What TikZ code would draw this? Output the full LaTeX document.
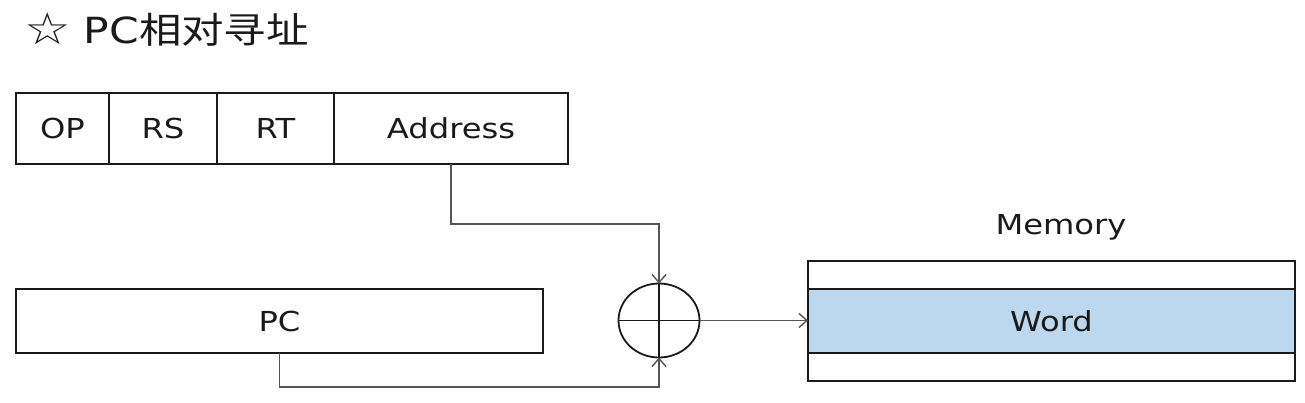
\documentclass[tikz,border=0pt]{standalone}
\usepackage{fontspec}
\setmainfont{DejaVu Sans}
\newfontfamily\cjk{Noto Sans CJK SC}
\usetikzlibrary{arrows.meta,shapes.geometric}
\definecolor{wordblue}{HTML}{BDD7EE}
\definecolor{linegray}{HTML}{555555}
\definecolor{ink}{HTML}{1A1A1A}
\newcommand{\wtxt}[2][1.17]{\scalebox{#1}[1]{#2}}
\begin{document}
\begin{tikzpicture}[x=1pt,y=-1pt,
  cell/.style={draw=ink, line width=1.8pt, inner sep=0pt, outer sep=0pt,
    minimum height=71pt, text=ink, font=\fontsize{27.5}{33}\selectfont},
  label/.style={inner sep=0pt, text=ink, font=\fontsize{27.5}{33}\selectfont},
  conn/.style={draw=linegray, line width=1.3pt},
  arrowed/.style={conn, -{Straight Barb[length=8pt,width=14pt,line width=1.4pt]}},
  adderstyle/.style={ellipse, draw=ink, line width=1.8pt, inner sep=0pt, outer sep=0pt,
    minimum width=81pt, minimum height=74pt},
  crossline/.style={draw=ink, line width=1.5pt}
]
\useasboundingbox (0,0) rectangle (1305,403);

% title
\node[anchor=base west, inner sep=0pt, text=ink, font=\fontsize{36}{40}\selectfont]
  (title) at (24,44) {\wtxt[1.18]{{\fontsize{44}{44}\selectfont\raisebox{-1pt}{☆}}\hspace{11pt}PC{\cjk 相对寻址}}};

% instruction format
\node[cell, minimum width=93pt]  (op)   at (62.5,128.5) {\wtxt{OP}};
\node[cell, minimum width=108pt] (rs)   at (163,128.5)  {\wtxt{RS}};
\node[cell, minimum width=117pt] (rt)   at (275.5,128.5){\wtxt{RT}};
\node[cell, minimum width=234pt] (addr) at (451,128.5)  {\wtxt{Address}};

% PC register
\node[cell, minimum width=527pt, minimum height=64pt] (pc) at (279.5,321) {\wtxt{PC}};

% adder
\node[adderstyle] (adder) at (659,320.5) {};
\draw[crossline] (adder.north) -- (adder.south) (adder.west) -- (adder.east);

% memory
\node[label, anchor=base] (memlabel) at (1061,234) {\wtxt{Memory}};
\node[cell, minimum width=487pt, minimum height=28pt] (mtop) at (1051.5,275) {};
\node[cell, minimum width=487pt, minimum height=64pt, fill=wordblue] (word) at (1051.5,321) {\wtxt{Word}};
\node[cell, minimum width=487pt, minimum height=28pt] (mbot) at (1051.5,367) {};

% connectors
\coordinate (ja) at (451,224);
\coordinate (jp) at (279.5,387);
\draw[arrowed] (addr.south) -- (ja) -| (adder.north);
\draw[arrowed] (pc.south) -- (jp) -| (adder.south);
\draw[arrowed] (adder.east) -- (adder.east -| word.west);
\end{tikzpicture}
\end{document}
